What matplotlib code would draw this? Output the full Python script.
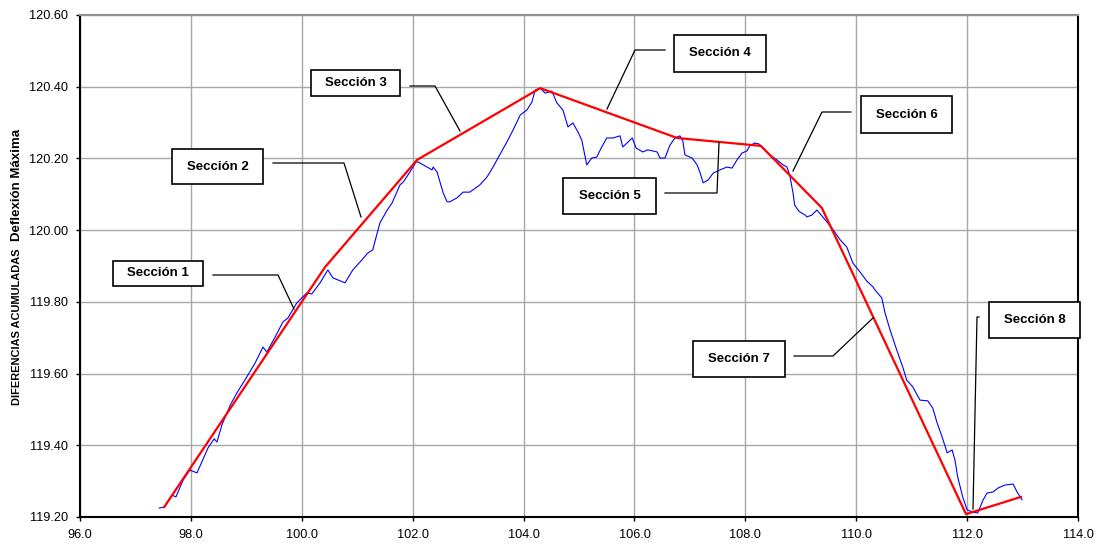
import matplotlib
matplotlib.use("Agg")
import matplotlib.pyplot as plt
from matplotlib.patches import Rectangle
from matplotlib.lines import Line2D
import numpy as np

# ---------------- data ----------------
dist_measured = [
    97.43, 97.52, 97.66, 97.73, 97.86, 97.98, 98.11, 98.31, 98.42, 98.47,
    98.56, 98.71, 98.83, 99.01, 99.16, 99.30, 99.37, 99.52, 99.66, 99.75,
    99.91, 100.09, 100.18, 100.33, 100.47, 100.56, 100.78, 100.92, 101.05, 101.19,
    101.28, 101.36, 101.41, 101.54, 101.63, 101.77, 101.83, 101.95, 102.06, 102.10,
    102.26, 102.35, 102.37, 102.44, 102.55, 102.62, 102.67, 102.80, 102.91, 103.03,
    103.21, 103.34, 103.45, 103.57, 103.70, 103.81, 103.94, 104.06, 104.15, 104.21,
    104.30, 104.39, 104.51, 104.60, 104.71, 104.80, 104.89, 104.98, 105.05, 105.14,
    105.23, 105.32, 105.41, 105.50, 105.61, 105.74, 105.79, 105.96, 106.03, 106.15,
    106.24, 106.41, 106.46, 106.55, 106.64, 106.73, 106.82, 106.87, 106.91, 107.04,
    107.13, 107.18, 107.24, 107.33, 107.42, 107.54, 107.67, 107.76, 107.85, 107.94,
    108.03, 108.08, 108.17, 108.25, 108.35, 108.44, 108.57, 108.68, 108.75, 108.80,
    108.86, 108.89, 108.95, 108.98, 109.08, 109.11, 109.20, 109.29, 109.38, 109.47,
    109.56, 109.71, 109.83, 109.94, 110.07, 110.19, 110.30, 110.34, 110.46, 110.52,
    110.61, 110.73, 110.84, 110.91, 111.02, 111.15, 111.29, 111.38, 111.46, 111.55,
    111.64, 111.73, 111.78, 111.83, 111.92, 112.00, 112.09, 112.19, 112.29, 112.36,
    112.47, 112.56, 112.68, 112.83, 112.90, 112.99,
]
cum_measured = [
    119.225, 119.228, 119.261, 119.256, 119.303, 119.331, 119.323, 119.393, 119.418, 119.409,
    119.457, 119.512, 119.546, 119.591, 119.630, 119.674, 119.660, 119.702, 119.744, 119.755,
    119.797, 119.825, 119.822, 119.853, 119.889, 119.867, 119.853, 119.889, 119.911, 119.936,
    119.945, 119.992, 120.020, 120.056, 120.076, 120.126, 120.134, 120.162, 120.190, 120.190,
    120.176, 120.168, 120.176, 120.162, 120.104, 120.079, 120.079, 120.090, 120.106, 120.106,
    120.126, 120.148, 120.176, 120.210, 120.246, 120.279, 120.321, 120.335, 120.357, 120.391,
    120.396, 120.382, 120.388, 120.355, 120.335, 120.288, 120.299, 120.274, 120.251, 120.182,
    120.201, 120.204, 120.232, 120.257, 120.257, 120.263, 120.232, 120.257, 120.229, 120.218,
    120.224, 120.218, 120.201, 120.201, 120.237, 120.257, 120.263, 120.251, 120.210, 120.201,
    120.182, 120.162, 120.132, 120.140, 120.159, 120.168, 120.176, 120.173, 120.196, 120.215,
    120.221, 120.235, 120.243, 120.240, 120.224, 120.210, 120.196, 120.182, 120.176, 120.154,
    120.104, 120.070, 120.056, 120.051, 120.042, 120.037, 120.042, 120.056, 120.040, 120.023,
    120.006, 119.973, 119.953, 119.908, 119.883, 119.858, 119.842, 119.833, 119.811, 119.769,
    119.722, 119.666, 119.618, 119.582, 119.563, 119.526, 119.524, 119.504, 119.462, 119.423,
    119.379, 119.387, 119.359, 119.312, 119.256, 119.220, 119.214, 119.211, 119.248, 119.267,
    119.270, 119.281, 119.289, 119.292, 119.270, 119.248,
]

dist_sections = [97.52, 100.42, 102.08, 104.30, 106.77, 108.28, 109.38, 111.98, 112.97]
cum_sections = [119.228, 119.897, 120.196, 120.396, 120.257, 120.235, 120.062, 119.208, 119.256]

section_labels = ["Sección 1", "Sección 2", "Sección 3", "Sección 4",
                  "Sección 5", "Sección 6", "Sección 7", "Sección 8"]

x_ticks = [96.0, 98.0, 100.0, 102.0, 104.0, 106.0, 108.0, 110.0, 112.0, 114.0]
y_ticks = [119.20, 119.40, 119.60, 119.80, 120.00, 120.20, 120.40, 120.60]

# ---------------- layout (pixel positions of callouts) ----------------
W, H = 1097, 548
boxes = [  # left, top, right, bottom in image pixels
    (113, 261, 203, 286),
    (172, 149, 263, 184),
    (311, 70, 400, 96),
    (674, 35, 766, 72),
    (563, 178, 656, 214),
    (861, 96, 952, 133),
    (693, 341, 785, 377),
    (989, 302, 1080, 338),
]
leaders = [
    [(213, 275), (278, 275), (294, 309)],
    [(273, 163), (344, 163), (361, 217)],
    [(410, 86), (435, 86), (460, 131)],
    [(665, 50), (635, 50), (607, 109)],
    [(665, 193), (717, 193), (719, 143)],
    [(851, 112), (822, 112), (793, 171)],
    [(794, 356), (833, 356), (873, 318)],
    [(979, 317), (977, 317), (973, 509)],
]

plt.rcParams['font.family'] = ['Liberation Sans', 'DejaVu Sans']

fig = plt.figure(figsize=(W / 100, H / 100), dpi=100)
fig.patch.set_facecolor("white")
ax = fig.add_axes([80 / W, 1 - 517 / H, (1078 - 80) / W, (517 - 15) / H])

ax.plot(dist_measured, cum_measured, color="#0000FF", lw=0.8, zorder=3)
ax.plot(dist_sections, cum_sections, color="#FF0000", lw=1.6, zorder=4)

ax.set_xlim(96, 114)
ax.set_ylim(119.2, 120.6)
ax.set_xticks(x_ticks)
ax.set_yticks(y_ticks)
ax.set_xticklabels([f"{v:.1f}" for v in x_ticks])
ax.set_yticklabels([f"{v:.2f}" for v in y_ticks])
ax.tick_params(axis="both", direction="out", length=3, width=1, pad=5.5,
               labelsize=9.2, colors="black")
ax.grid(True, color="#a8a8a8", lw=1.0, zorder=0)
ax.set_axisbelow(True)
for s in ["left", "bottom", "right"]:
    ax.spines[s].set_color("black")
    ax.spines[s].set_linewidth(1.5)
ax.spines["top"].set_color("#909090")
ax.spines["top"].set_linewidth(1.5)

def fpt(px, py):
    return px / W, 1 - py / H

# callouts
for label, (l, t, r, b), pts in zip(section_labels, boxes, leaders):
    xs = [fpt(*p)[0] for p in pts]
    ys = [fpt(*p)[1] for p in pts]
    fig.add_artist(Line2D(xs, ys, transform=fig.transFigure, color="black",
                          lw=0.9, zorder=6))
    x0, y0 = fpt(l, b)
    fig.add_artist(Rectangle((x0, y0), (r - l) / W, (b - t) / H,
                             transform=fig.transFigure, facecolor="white",
                             edgecolor="black", lw=1.2, zorder=7))
    cx, cy = fpt((l + r) / 2, (t + b) / 2)
    fig.text(cx, cy, label, ha="center", va="center", fontsize=9.5,
             fontweight="bold", zorder=8)

# y-axis label in two sizes
fig.text(17 / W, 1 - 405 / H, "DIFERENCIAS ACUMULADAS", rotation=90,
         ha="center", va="bottom", fontsize=7.9, fontweight="bold")
fig.text(17 / W, 1 - 241 / H, "Deflexión Máxima", rotation=90,
         ha="center", va="bottom", fontsize=9.5, fontweight="bold")

fig.savefig("out.png", dpi=100, facecolor="white")
